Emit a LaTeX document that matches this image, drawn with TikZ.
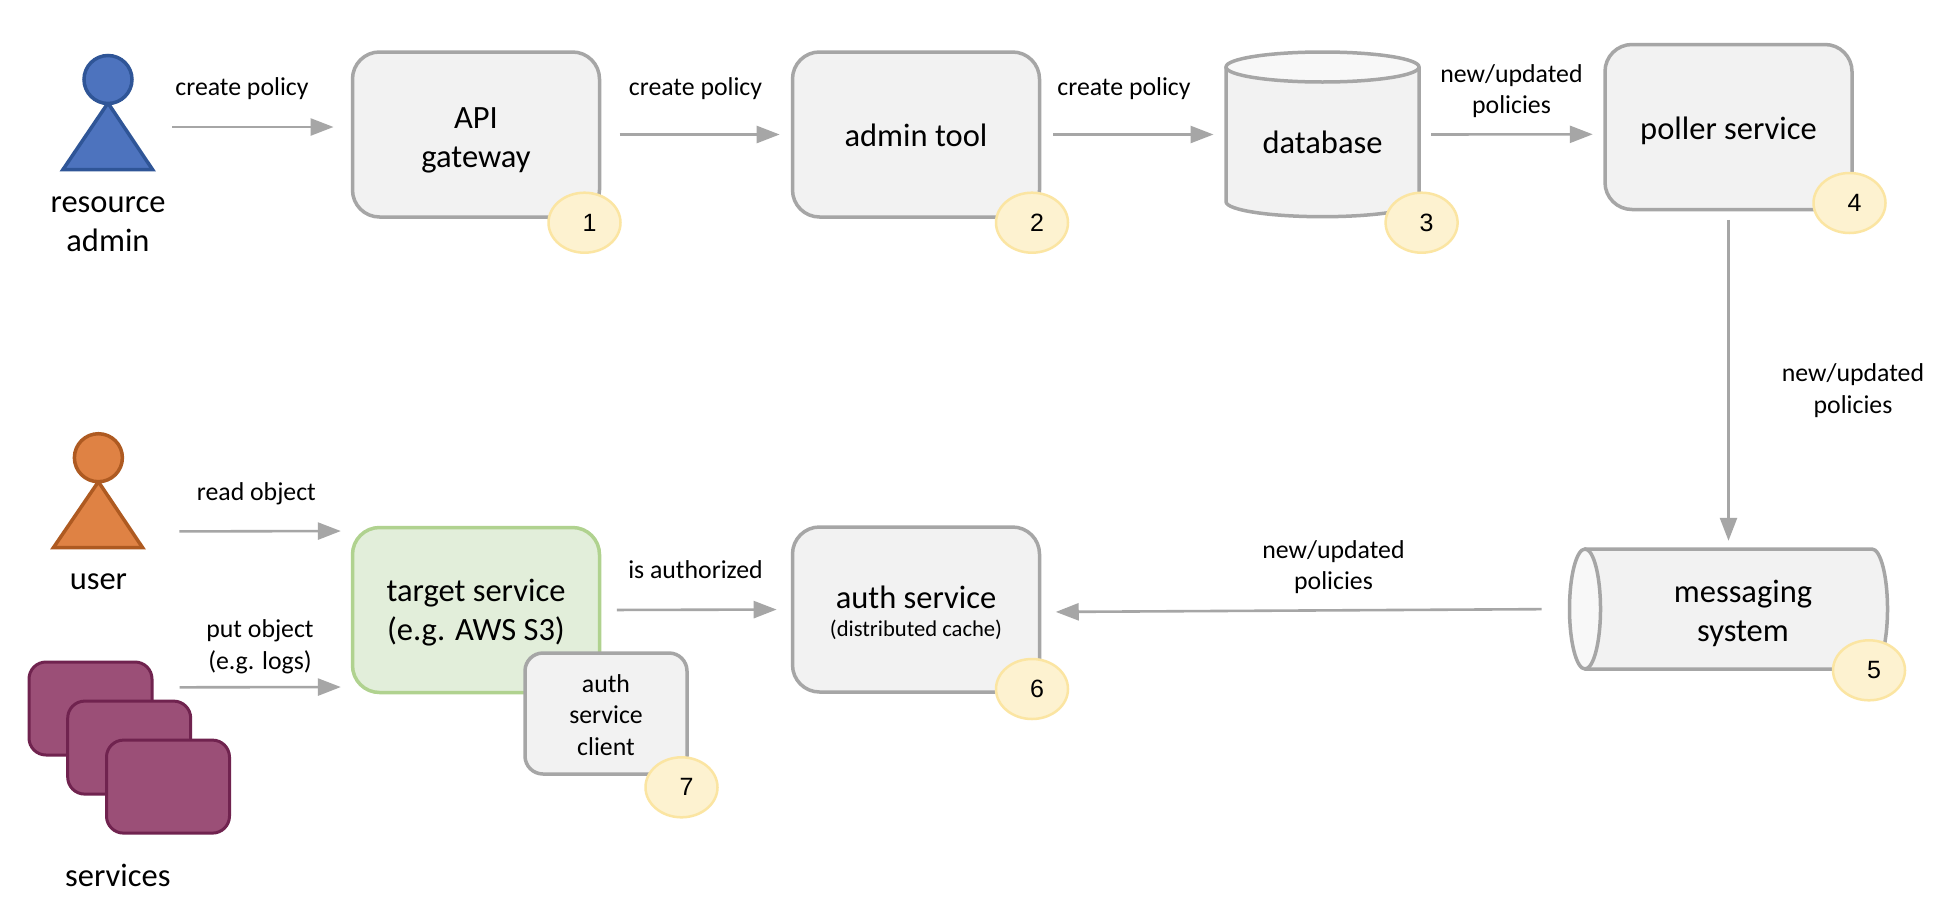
\documentclass[tikz,border=0pt]{standalone}
\usepackage{fontspec}
\setmainfont{Carlito}
\newfontfamily\numfont{Liberation Sans}
\usetikzlibrary{arrows.meta,shapes.geometric}
\definecolor{edgegray}{HTML}{A6A6A6}
\definecolor{boxfill}{HTML}{F2F2F2}
\definecolor{capfill}{HTML}{F8F8F8}
\definecolor{badgefill}{HTML}{FDF2D0}
\definecolor{badgeline}{HTML}{FBE5A2}
\definecolor{greenfill}{HTML}{E2EEDA}
\definecolor{greenline}{HTML}{B0D28F}
\definecolor{bluefill}{HTML}{4D73BE}
\definecolor{blueline}{HTML}{2F5597}
\definecolor{orangefill}{HTML}{DF8244}
\definecolor{orangeline}{HTML}{AE5A21}
\definecolor{plumfill}{HTML}{9B4F77}
\definecolor{plumline}{HTML}{70234F}
\tikzset{
  x=1pt,y=-1pt,
  bigtext/.style={font=\fontsize{32.5}{39}\selectfont,align=center,text=black,inner sep=0pt},
  smalltext/.style={font=\fontsize{25.8}{31.5}\selectfont,align=center,text=black,inner sep=0pt},
  tinytext/.style={font=\fontsize{22.6}{28}\selectfont,align=center,text=black,inner sep=0pt},
  svcbox/.style={draw=edgegray,fill=boxfill,line width=3.5pt,rounded corners=27pt,
    minimum width=247pt,minimum height=165pt,inner sep=0pt},
  clientbox/.style={svcbox,rounded corners=18pt,minimum width=162pt,minimum height=121pt},
  targetbox/.style={svcbox,draw=greenline,fill=greenfill},
  plumbox/.style={draw=plumline,fill=plumfill,line width=3pt,rounded corners=17pt,
    minimum width=123pt,minimum height=93pt},
  badge/.style={ellipse,draw=badgeline,fill=badgefill,line width=2.5pt,minimum width=72pt,
    minimum height=60pt,inner sep=0pt,font=\numfont\fontsize{25}{30}\selectfont,text=black},
  flow/.style={draw=edgegray,line width=2.6pt,-{Triangle[length=23pt,width=17pt]}},
  ghost/.style={inner sep=0pt,outer sep=0pt},
}
\begin{document}
\begin{tikzpicture}
\useasboundingbox (0,0) rectangle (1954,916);
\fill[white] (0,0) rectangle (1954,916);

% resource admin
\draw[blueline,fill=bluefill,line width=3.5pt] (108,103) -- (152.5,169.5) -- (63,169.5) -- cycle;
\node[ellipse,draw=blueline,fill=bluefill,line width=3.5pt,minimum width=48pt,minimum height=48pt,inner sep=0pt] (adminhead) at (108,79.5) {};
\coordinate (adminedge) at (155,127);
\node[bigtext] (admintext) at (108,224) {resource\\admin};

% user
\draw[orangeline,fill=orangefill,line width=3.5pt] (98.4,481.7) -- (142.5,547.5) -- (53.5,547.5) -- cycle;
\node[ellipse,draw=orangeline,fill=orangefill,line width=3.5pt,minimum width=48pt,minimum height=48pt,inner sep=0pt] (userhead) at (98.4,457.7) {};
\coordinate (useredge) at (145,531.5);
\node[bigtext] (usertext) at (98.4,582) {user};

% services
\node[plumbox] (svcA) at (90.5,708.5) {};
\node[plumbox] (svcB) at (129.2,747.6) {};
\node[plumbox] (svcC) at (168,786.6) {};
\coordinate (svcedge) at (190.5,687.3);
\node[bigtext] (svctext) at (117.8,875.5) {services};

% top row
\node[svcbox] (api) at (476,134.5) {};
\node[bigtext] (apitext) at (476,140.5) {API\\gateway};
\node[svcbox] (admintool) at (916,134.5) {};
\node[bigtext] (tooltext) at (916,135.5) {admin tool};

% database
\draw[edgegray,fill=boxfill,line width=3.5pt] (1226,67) -- (1226,201.7) arc[start angle=180,end angle=0,x radius=96.5,y radius=15] -- (1419,67);
\draw[edgegray,fill=capfill,line width=3.5pt] (1322.5,67) ellipse[x radius=96.5,y radius=15];
\node[ghost,minimum width=193pt,minimum height=165pt] (db) at (1322.5,134.5) {};
\node[bigtext] (dbtext) at (1322.5,142.5) {database};

\node[svcbox] (poller) at (1728.5,127) {};
\node[bigtext] (pollertext) at (1728.5,131) {poller service};

% messaging system
\draw[edgegray,fill=boxfill,line width=3.5pt] (1585,549) -- (1872,549) arc[start angle=-90,end angle=90,x radius=15.5,y radius=60] -- (1585,669);
\draw[edgegray,fill=capfill,line width=3.5pt] (1585,609) ellipse[x radius=15.5,y radius=60];
\node[ghost,minimum width=318pt,minimum height=120pt] (msg) at (1728.5,609) {};
\node[bigtext] (msgtext) at (1743,613.8) {messaging\\system};

% bottom row
\node[targetbox] (target) at (476,610) {};
\node[bigtext] (targettext) at (476,613) {target service\\(e.g. AWS S3)};
\node[clientbox] (client) at (606,713.5) {};
\node[smalltext] (clienttext) at (606,714.7) {auth\\service\\client};
\node[svcbox] (auth) at (916,609.5) {};
\node[bigtext] (authtext) at (916,597) {auth service};
\node[tinytext] (authsub) at (916,630) {(distributed cache)};

% connectors
\draw[flow,shorten <=17pt,shorten >=17.2pt] (adminedge) -- ([yshift=7.5pt]api.west);
\draw[flow,shorten <=18.4pt,shorten >=11.1pt] (api.east) -- (admintool.west);
\draw[flow,shorten <=12.1pt,shorten >=12.5pt] (admintool.east) -- (db.west);
\draw[flow,shorten <=12pt,shorten >=10.5pt] (db.east) -- ([yshift=-7.3pt]poller.west);
\draw[flow,shorten <=8.5pt,shorten >=8.2pt] (poller.south) -- (msg.north);
\draw[flow,shorten <=28pt,shorten >=14.5pt] (msg.west) -- ([yshift=-2.5pt]auth.east);
\draw[flow,shorten <=15.5pt,shorten >=14.1pt] (target.east) -- (auth.west);
\draw[flow,shorten <=34.4pt,shorten >=9.9pt] (useredge) -- ([yshift=79pt]target.west);
\draw[flow,shorten <=-11pt,shorten >=9.9pt] (svcedge) -- ([yshift=-77pt]target.west);

% badges
\node[badge] (b1) at (584.5,222.7) {\hspace*{10pt}1};
\node[badge] (b2) at (1032,222.7) {\hspace*{10pt}2};
\node[badge] (b3) at (1421.6,222.7) {\hspace*{10pt}3};
\node[badge] (b4) at (1849.5,203) {\hspace*{10pt}4};
\node[badge] (b5) at (1869,670.3) {\hspace*{10pt}5};
\node[badge] (b6) at (1032,689) {\hspace*{10pt}6};
\node[badge] (b7) at (681.5,787.3) {\hspace*{10pt}7};

% labels
\node[smalltext] (l1) at (242,89) {create policy};
\node[smalltext] (l2) at (695.5,89) {create policy};
\node[smalltext] (l3) at (1124,89) {create policy};
\node[smalltext] (l4) at (1511.5,91) {new/updated\\policies};
\node[smalltext] (l5) at (1853,390.5) {new/updated\\policies};
\node[smalltext] (l6) at (1333.5,567) {new/updated\\policies};
\node[smalltext] (l7) at (695.5,569.5) {is authorized};
\node[smalltext] (l8) at (256.4,494) {read object};
\node[smalltext] (l9) at (260,646.5) {put object\\(e.g. logs)};
\end{tikzpicture}
\end{document}
